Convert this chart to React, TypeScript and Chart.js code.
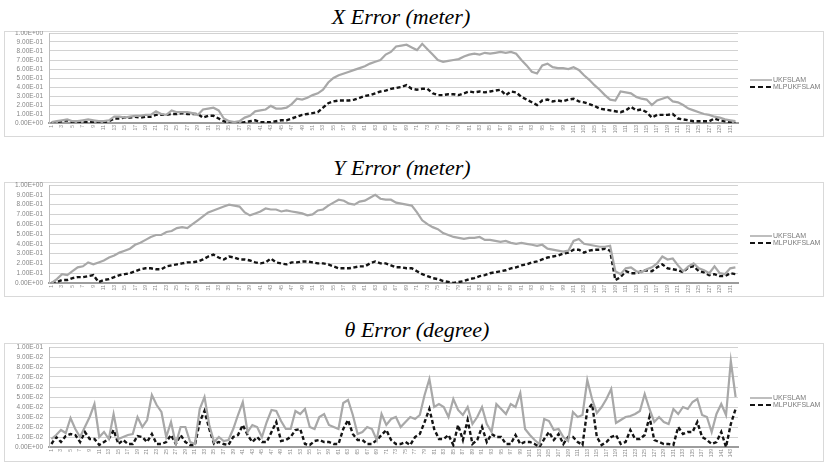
import React, { useEffect, useRef } from "react";
import { Chart, registerables } from "chart.js";

Chart.register(...registerables);

// ---------- categories (sample index) ----------
const xyCategories: string[] = Array.from({ length: 132 }, (_, i) => String(i + 1));
const thetaCategories: string[] = Array.from({ length: 144 }, (_, i) => String(i + 1));

const seriesNames = ["UKFSLAM", "MLPUKFSLAM"];

// ---------- X error (meter) ----------
const xErrUKF = [
  0.01, 0.02, 0.03, 0.04, 0.02, 0.02, 0.03, 0.04, 0.03, 0.02,
  0.02, 0.03, 0.07, 0.07, 0.06, 0.07, 0.08, 0.08, 0.09, 0.09,
  0.13, 0.10, 0.09, 0.14, 0.12, 0.12, 0.12, 0.11, 0.09, 0.15,
  0.16, 0.17, 0.14, 0.05, 0.02, 0.01, 0.02, 0.06, 0.08, 0.13,
  0.14, 0.15, 0.19, 0.16, 0.16, 0.17, 0.21, 0.27, 0.26, 0.28,
  0.31, 0.33, 0.37, 0.45, 0.50, 0.53, 0.55, 0.57, 0.59, 0.61,
  0.63, 0.66, 0.68, 0.70, 0.76, 0.79, 0.85, 0.86, 0.87, 0.84,
  0.81, 0.88, 0.82, 0.76, 0.70, 0.68, 0.69, 0.70, 0.71, 0.74,
  0.76, 0.77, 0.76, 0.78, 0.77, 0.78, 0.79, 0.78, 0.79, 0.77,
  0.70, 0.64, 0.57, 0.55, 0.64, 0.66, 0.62, 0.61, 0.61, 0.60,
  0.62, 0.59, 0.53, 0.48, 0.42, 0.37, 0.31, 0.26, 0.25, 0.35,
  0.34, 0.33, 0.29, 0.27, 0.26, 0.20, 0.25, 0.27, 0.29, 0.24,
  0.23, 0.20, 0.16, 0.14, 0.12, 0.10, 0.09, 0.07, 0.06, 0.04,
  0.03, 0.02,
];
const xErrMLP = [
  0.00, 0.01, 0.02, 0.03, 0.01, 0.01, 0.01, 0.01, 0.01, 0.01,
  0.01, 0.02, 0.05, 0.05, 0.06, 0.06, 0.07, 0.06, 0.07, 0.07,
  0.09, 0.09, 0.09, 0.10, 0.10, 0.11, 0.10, 0.10, 0.10, 0.06,
  0.08, 0.08, 0.05, 0.02, 0.00, 0.00, 0.00, 0.01, 0.02, 0.03,
  0.01, 0.01, 0.01, 0.02, 0.03, 0.03, 0.05, 0.07, 0.09, 0.10,
  0.11, 0.12, 0.17, 0.22, 0.24, 0.25, 0.25, 0.25, 0.26, 0.28,
  0.30, 0.31, 0.33, 0.35, 0.36, 0.38, 0.39, 0.40, 0.42, 0.38,
  0.37, 0.38, 0.38, 0.33, 0.31, 0.31, 0.32, 0.32, 0.31, 0.33,
  0.35, 0.34, 0.35, 0.34, 0.35, 0.36, 0.37, 0.31, 0.35, 0.34,
  0.29, 0.26, 0.23, 0.20, 0.25, 0.26, 0.24, 0.25, 0.24, 0.26,
  0.27, 0.24, 0.23, 0.21, 0.19, 0.16, 0.15, 0.14, 0.13, 0.12,
  0.14, 0.18, 0.14, 0.15, 0.12, 0.06, 0.09, 0.09, 0.09, 0.10,
  0.05, 0.04, 0.03, 0.02, 0.02, 0.02, 0.02, 0.05, 0.03, 0.02,
  0.01, 0.00,
];

// ---------- Y error (meter) ----------
const yErrUKF = [
  0.00, 0.04, 0.09, 0.08, 0.12, 0.16, 0.17, 0.21, 0.19, 0.21,
  0.23, 0.26, 0.28, 0.31, 0.33, 0.35, 0.39, 0.41, 0.44, 0.47,
  0.49, 0.49, 0.52, 0.53, 0.56, 0.57, 0.56, 0.60, 0.64, 0.68,
  0.72, 0.74, 0.76, 0.78, 0.80, 0.79, 0.78, 0.72, 0.69, 0.71,
  0.73, 0.76, 0.75, 0.75, 0.73, 0.74, 0.73, 0.72, 0.71, 0.69,
  0.70, 0.74, 0.75, 0.79, 0.82, 0.85, 0.84, 0.81, 0.80, 0.83,
  0.84, 0.87, 0.90, 0.86, 0.85, 0.85, 0.82, 0.81, 0.80, 0.79,
  0.72, 0.64, 0.60, 0.57, 0.55, 0.51, 0.49, 0.47, 0.46, 0.45,
  0.46, 0.46, 0.47, 0.44, 0.44, 0.43, 0.42, 0.43, 0.41, 0.40,
  0.41, 0.40, 0.39, 0.38, 0.39, 0.35, 0.34, 0.33, 0.32, 0.33,
  0.43, 0.45, 0.40, 0.39, 0.38, 0.37, 0.37, 0.38, 0.12, 0.09,
  0.15, 0.16, 0.12, 0.11, 0.14, 0.16, 0.20, 0.27, 0.24, 0.25,
  0.18, 0.12, 0.17, 0.20, 0.15, 0.13, 0.10, 0.17, 0.10, 0.09,
  0.15, 0.16,
];
const yErrMLP = [
  0.00, 0.01, 0.03, 0.03, 0.05, 0.06, 0.06, 0.07, 0.08, 0.01,
  0.03, 0.04, 0.06, 0.08, 0.09, 0.10, 0.12, 0.14, 0.15, 0.15,
  0.14, 0.14, 0.17, 0.18, 0.19, 0.20, 0.21, 0.21, 0.22, 0.24,
  0.27, 0.29, 0.26, 0.24, 0.27, 0.26, 0.24, 0.24, 0.23, 0.21,
  0.20, 0.21, 0.25, 0.21, 0.20, 0.19, 0.21, 0.21, 0.22, 0.22,
  0.21, 0.20, 0.20, 0.19, 0.17, 0.15, 0.15, 0.15, 0.16, 0.17,
  0.17, 0.20, 0.22, 0.20, 0.20, 0.18, 0.16, 0.16, 0.15, 0.15,
  0.12, 0.09, 0.07, 0.05, 0.04, 0.02, 0.01, 0.00, 0.01, 0.02,
  0.04, 0.05, 0.07, 0.08, 0.10, 0.11, 0.12, 0.13, 0.15, 0.16,
  0.18, 0.19, 0.21, 0.22, 0.24, 0.26, 0.27, 0.28, 0.30, 0.31,
  0.34, 0.34, 0.31, 0.33, 0.34, 0.34, 0.35, 0.33, 0.03, 0.06,
  0.12, 0.10, 0.10, 0.12, 0.13, 0.12, 0.16, 0.19, 0.15, 0.14,
  0.13, 0.11, 0.16, 0.17, 0.12, 0.11, 0.08, 0.09, 0.07, 0.07,
  0.10, 0.09,
];

// ---------- theta error (degree) ----------
const thErrUKF = [
  0.008, 0.012, 0.017, 0.014, 0.029, 0.018, 0.010, 0.020, 0.030, 0.043,
  0.010, 0.015, 0.008, 0.033, 0.008, 0.010, 0.012, 0.013, 0.030, 0.020,
  0.027, 0.052, 0.042, 0.035, 0.010, 0.025, 0.003, 0.020, 0.020, 0.005,
  0.003, 0.038, 0.050, 0.022, 0.005, 0.010, 0.006, 0.007, 0.018, 0.032,
  0.045, 0.015, 0.022, 0.020, 0.010, 0.025, 0.037, 0.036, 0.026, 0.018,
  0.018, 0.036, 0.033, 0.038, 0.020, 0.018, 0.030, 0.033, 0.022, 0.020,
  0.018, 0.044, 0.047, 0.032, 0.013, 0.015, 0.020, 0.018, 0.007, 0.033,
  0.022, 0.028, 0.030, 0.020, 0.025, 0.030, 0.028, 0.032, 0.052, 0.068,
  0.040, 0.043, 0.040, 0.030, 0.048, 0.037, 0.032, 0.040, 0.023, 0.030,
  0.040, 0.023, 0.015, 0.043, 0.038, 0.033, 0.043, 0.040, 0.054, 0.018,
  0.012, 0.007, 0.003, 0.028, 0.026, 0.017, 0.018, 0.010, 0.006, 0.035,
  0.030, 0.032, 0.067, 0.048, 0.034, 0.040, 0.048, 0.058, 0.024, 0.027,
  0.030, 0.031, 0.033, 0.036, 0.053, 0.038, 0.025, 0.030, 0.025, 0.023,
  0.038, 0.033, 0.040, 0.038, 0.045, 0.048, 0.032, 0.030, 0.015, 0.033,
  0.043, 0.032, 0.086, 0.050,
];
const thErrMLP = [
  0.003, 0.010, 0.005, 0.011, 0.013, 0.012, 0.005, 0.015, 0.008, 0.008,
  0.002, 0.005, 0.008, 0.017, 0.003, 0.007, 0.003, 0.003, 0.011, 0.010,
  0.005, 0.013, 0.003, 0.003, 0.005, 0.012, 0.003, 0.012, 0.005, 0.002,
  0.002, 0.025, 0.036, 0.018, 0.003, 0.005, 0.003, 0.002, 0.010, 0.012,
  0.022, 0.012, 0.005, 0.010, 0.005, 0.005, 0.015, 0.025, 0.006, 0.007,
  0.010, 0.017, 0.018, 0.003, 0.002, 0.006, 0.007, 0.005, 0.005, 0.003,
  0.003, 0.018, 0.027, 0.013, 0.007, 0.007, 0.003, 0.003, 0.007, 0.012,
  0.017, 0.007, 0.003, 0.003, 0.005, 0.002, 0.010, 0.013, 0.025, 0.038,
  0.018, 0.008, 0.008, 0.012, 0.002, 0.022, 0.007, 0.027, 0.003, 0.007,
  0.020, 0.005, 0.013, 0.010, 0.010, 0.003, 0.003, 0.012, 0.003, 0.005,
  0.005, 0.003, 0.000, 0.008, 0.015, 0.007, 0.013, 0.003, 0.010, 0.010,
  0.005, 0.002, 0.037, 0.043, 0.010, 0.002, 0.005, 0.010, 0.012, 0.003,
  0.005, 0.017, 0.008, 0.008, 0.012, 0.030, 0.007, 0.005, 0.003, 0.003,
  0.002, 0.020, 0.013, 0.015, 0.015, 0.025, 0.010, 0.007, 0.003, 0.005,
  0.015, 0.000, 0.023, 0.038,
];

// ---------- layout ----------
const CANVAS_LEFT = 4;
const CANVAS_W = 820;
const PLOT_LEFT = 49;
const PLOT_RIGHT = 738;

type PanelCfg = {
  title: string;
  titleTop: number;
  titleCx: number;
  boxTop: number;
  boxBottom: number;
  plotTop: number;
  plotBottom: number;
  legendY: number;
  labels: string[];
  ukf: number[];
  mlp: number[];
  max: number;
  step: number;
};

const panels: PanelCfg[] = [
  {
    title: "X Error (meter)", titleTop: 6, titleCx: 401,
    boxTop: 31, boxBottom: 137, plotTop: 33, plotBottom: 123, legendY: 80,
    labels: xyCategories, ukf: xErrUKF, mlp: xErrMLP, max: 1, step: 0.1,
  },
  {
    title: "Y Error (meter)", titleTop: 157, titleCx: 402,
    boxTop: 182, boxBottom: 297, plotTop: 185, plotBottom: 283, legendY: 236,
    labels: xyCategories, ukf: yErrUKF, mlp: yErrMLP, max: 1, step: 0.1,
  },
  {
    title: "θ Error (degree)", titleTop: 319, titleCx: 417,
    boxTop: 343, boxBottom: 462, plotTop: 347, plotBottom: 447, legendY: 398,
    labels: thetaCategories, ukf: thErrUKF, mlp: thErrMLP, max: 0.1, step: 0.01,
  },
];

function sci(v: number): string {
  const [m, e] = v.toExponential(2).split("e");
  const n = parseInt(e, 10);
  return `${m}E${n < 0 ? "-" : "+"}${String(Math.abs(n)).padStart(2, "0")}`;
}

function Panel({ p }: { p: PanelCfg }) {
  const ref = useRef<HTMLCanvasElement>(null);
  const h = p.boxBottom - p.boxTop;

  useEffect(() => {
    const canvas = ref.current;
    if (!canvas) return;
    const chart = new Chart(canvas, {
      type: "line",
      data: {
        labels: p.labels,
        datasets: [
          {
            label: seriesNames[0],
            data: p.ukf,
            borderColor: "#a8a8a8",
            borderWidth: 2.2,
            pointRadius: 0,
            tension: 0,
            fill: false,
          },
          {
            label: seriesNames[1],
            data: p.mlp,
            borderColor: "#141414",
            borderWidth: 2.4,
            borderDash: [4, 2.5],
            pointRadius: 0,
            tension: 0,
            fill: false,
          },
        ],
      },
      options: {
        responsive: false,
        maintainAspectRatio: false,
        animation: false,
        layout: {
          padding: {
            left: 0,
            right: CANVAS_W - (PLOT_RIGHT - CANVAS_LEFT),
            top: p.plotTop - p.boxTop,
            bottom: 0,
          },
        },
        plugins: {
          legend: { display: false },
          tooltip: { enabled: false },
        },
        scales: {
          x: {
            type: "category",
            offset: true,
            grid: { display: false, drawTicks: false },
            border: { display: true, color: "#9c9c9c", width: 2 },
            ticks: {
              autoSkip: false,
              maxRotation: 90,
              minRotation: 90,
              padding: 2,
              color: "#8c8c8c",
              font: { size: 5, family: "'Liberation Sans', Arial, sans-serif" },
              callback: (_v: any, i: number) => (i % 2 === 0 ? p.labels[i] : ""),
            },
            afterFit: (s: any) => {
              s.height = p.boxBottom - p.plotBottom;
              s.paddingLeft = 0;
              s.paddingRight = 0;
            },
          },
          y: {
            min: 0,
            max: p.max,
            ticks: {
              stepSize: p.step,
              autoSkip: false,
              padding: 6,
              color: "#858585",
              font: { size: 6.5, family: "'Liberation Sans', Arial, sans-serif" },
              callback: (v: any) => sci(Number(v)),
            },
            grid: { color: "#d2d2d2", lineWidth: 1, drawTicks: false },
            border: { display: true, color: "#bdbdbd", width: 1 },
            afterFit: (s: any) => {
              s.width = PLOT_LEFT - CANVAS_LEFT;
              s.paddingTop = 0;
              s.paddingBottom = 0;
            },
          },
        },
      },
    } as any);
    return () => chart.destroy();
  }, []);

  const legendText: React.CSSProperties = {
    position: "absolute",
    left: 773,
    fontFamily: "'Liberation Sans', Arial, sans-serif",
    fontSize: 7,
    lineHeight: "8px",
    color: "#7a7a7a",
    whiteSpace: "nowrap",
  };

  return (
    <>
      <div
        style={{
          position: "absolute",
          left: p.titleCx - 150,
          top: p.titleTop,
          width: 300,
          textAlign: "center",
          fontFamily: "'Liberation Serif', 'Times New Roman', serif",
          fontStyle: "italic",
          fontSize: 22,
          lineHeight: "22px",
          color: "#000",
        }}
      >
        {p.title}
      </div>
      <div
        style={{
          position: "absolute",
          left: CANVAS_LEFT,
          top: p.boxTop,
          width: CANVAS_W,
          height: h,
          border: "1px solid #d9d9d9",
          boxSizing: "border-box",
        }}
      />
      <canvas
        ref={ref}
        width={CANVAS_W}
        height={h}
        style={{ position: "absolute", left: CANVAS_LEFT, top: p.boxTop, width: CANVAS_W, height: h }}
      />
      <svg
        style={{ position: "absolute", left: 750, top: p.legendY - 2 }}
        width={22}
        height={4}
      >
        <line x1={0} y1={2} x2={22} y2={2} stroke="#a8a8a8" strokeWidth={1.5} />
      </svg>
      <div style={{ ...legendText, top: p.legendY - 4 }}>{seriesNames[0]}</div>
      <svg
        style={{ position: "absolute", left: 750, top: p.legendY + 5 }}
        width={22}
        height={4}
      >
        <line x1={0} y1={2} x2={22} y2={2} stroke="#141414" strokeWidth={2} strokeDasharray="5 3" />
      </svg>
      <div style={{ ...legendText, top: p.legendY + 3 }}>{seriesNames[1]}</div>
    </>
  );
}

export default function App() {
  return (
    <div
      style={{
        position: "fixed",
        left: 0,
        top: 0,
        width: 825,
        height: 463,
        background: "#ffffff",
        overflow: "hidden",
      }}
    >
      {panels.map((p, i) => (
        <Panel key={i} p={p} />
      ))}
    </div>
  );
}
